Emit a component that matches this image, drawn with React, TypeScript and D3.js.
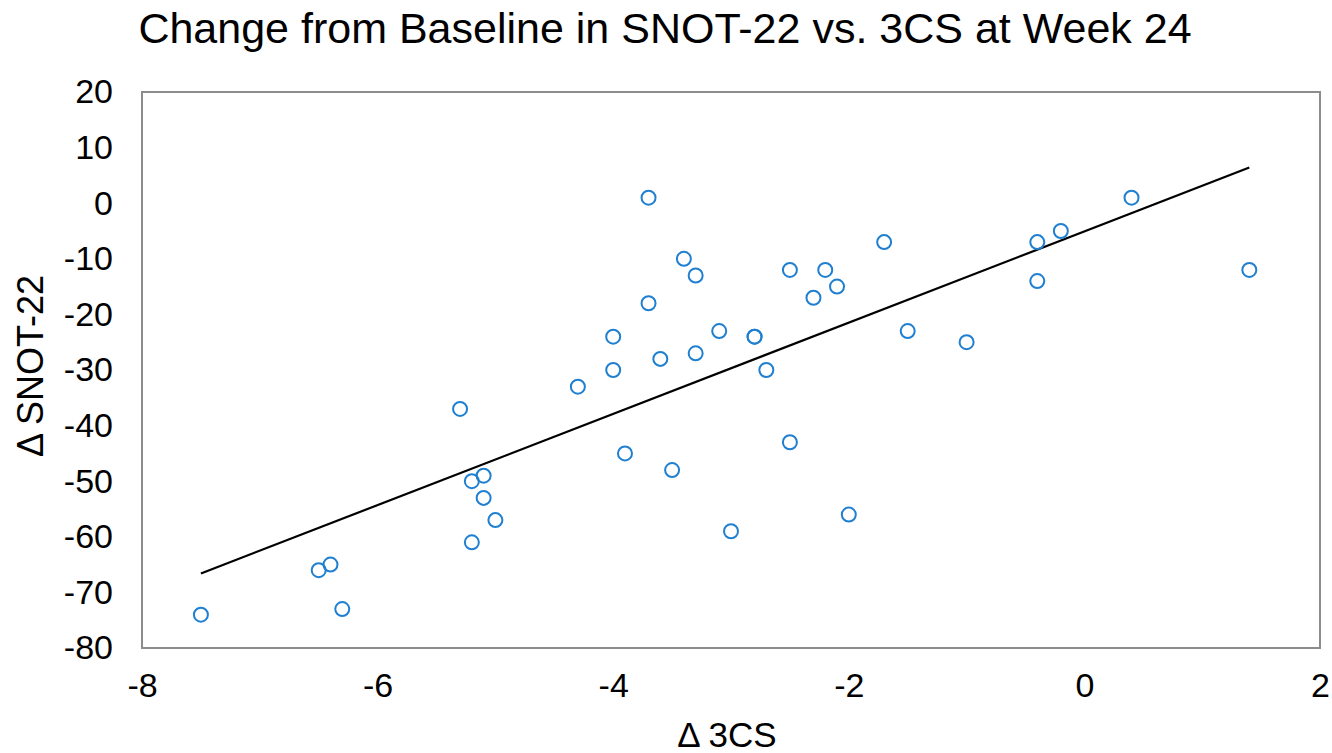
import * as d3 from 'd3'
import { useEffect, useRef } from 'react';

// change in 3CS (x) and change in SNOT-22 (y), one entry per patient
const d3cs = [-7.5, -6.5, -6.4, -6.3, -5.3, -5.2, -5.1, -5.1, -5.0, -5.2, -4.3, -4.0, -4.0, -3.9, -3.7, -3.7, -3.6, -3.5, -3.4, -3.3, -3.3, -3.1, -3.0, -2.8, -2.8, -2.7, -2.5, -2.5, -2.3, -2.2, -2.1, -2.0, -1.7, -1.5, -1.0, -0.4, -0.4, -0.2, 0.4, 1.4];
const dSnot = [-74, -66, -65, -73, -37, -50, -49, -53, -57, -61, -33, -24, -30, -45, 1, -18, -28, -48, -10, -13, -27, -23, -59, -24, -24, -30, -12, -43, -17, -12, -15, -56, -7, -23, -25, -7, -14, -5, 1, -12];
const xTicks = [-8, -6, -4, -2, 0, 2];
const yTicks = [20, 10, 0, -10, -20, -30, -40, -50, -60, -70, -80];

const W = 1332, H = 753;
const m = { left: 142, right: 12, top: 92, bottom: 105 };

function drawChart(svgEl: SVGSVGElement) {
    const svg = d3.select(svgEl);
    svg.selectAll("*").remove();
    const font = "'Liberation Sans', Arial, sans-serif";

    const x = d3.scaleLinear().domain([-8, 2]).range([m.left, W - m.right]);
    const y = d3.scaleLinear().domain([-80, 20]).range([H - m.bottom, m.top]);

    // frame
    svg.append("rect")
        .attr("x", x(-8)).attr("y", y(20))
        .attr("width", x(2) - x(-8)).attr("height", y(-80) - y(20))
        .attr("fill", "none").attr("stroke", "#8c8c8c").attr("stroke-width", 2);

    // axes: labels only, hyphen minus like the original
    const fmt = (d: d3.NumberValue) => String(d);
    const gx = svg.append("g")
        .attr("transform", `translate(0,${y(-80)})`)
        .call(d3.axisBottom(x).tickValues(xTicks).tickSize(0).tickPadding(25).tickFormat(fmt));
    const gy = svg.append("g")
        .attr("transform", `translate(${x(-8)},0)`)
        .call(d3.axisLeft(y).tickValues(yTicks).tickSize(0).tickPadding(29).tickFormat(fmt));
    [gx, gy].forEach(g => {
        g.select(".domain").remove();
        g.selectAll("text").attr("font-family", font).attr("font-size", 34).attr("fill", "#000");
    });
    gx.selectAll("text").attr("dy", "0.71em");

    // trendline (least squares)
    const pts = d3cs.map((v, i) => [v, dSnot[i]] as [number, number]);
    const mx = d3.mean(d3cs)!, my = d3.mean(dSnot)!;
    const sxy = d3.sum(pts, p => (p[0] - mx) * (p[1] - my));
    const sxx = d3.sum(pts, p => (p[0] - mx) ** 2);
    const slope = sxy / sxx, icpt = my - slope * mx;
    const [x0, x1] = d3.extent(d3cs) as [number, number];
    svg.append("line")
        .attr("x1", x(x0)).attr("y1", y(icpt + slope * x0))
        .attr("x2", x(x1)).attr("y2", y(icpt + slope * x1))
        .attr("stroke", "#000").attr("stroke-width", 2.2);

    // points
    svg.append("g").selectAll("circle").data(pts).join("circle")
        .attr("cx", d => x(d[0])).attr("cy", d => y(d[1]))
        .attr("r", 7).attr("fill", "none")
        .attr("stroke", "#1f7fd0").attr("stroke-width", 2);

    // titles
    svg.append("text").text("Change from Baseline in SNOT-22 vs. 3CS at Week 24")
        .attr("x", 665).attr("y", 43).attr("text-anchor", "middle")
        .attr("font-family", font).attr("font-size", 43).attr("fill", "#000");
    svg.append("text").text("Δ 3CS")
        .attr("x", 727).attr("y", 747).attr("text-anchor", "middle")
        .attr("font-family", font).attr("font-size", 35).attr("fill", "#000");
    svg.append("text").text("Δ SNOT-22")
        .attr("transform", `translate(43,366) rotate(-90)`)
        .attr("text-anchor", "middle")
        .attr("font-family", font).attr("font-size", 36).attr("fill", "#000");
}

function App() {
    const ref = useRef<SVGSVGElement>(null);
    useEffect(() => {
        if (ref.current) drawChart(ref.current);
    });

    return (
        <svg ref={ref} width={W} height={H}
            style={{ position: "absolute", left: 0, top: 0, background: "#fff" }}>
        </svg>
    );
}

export default App;
